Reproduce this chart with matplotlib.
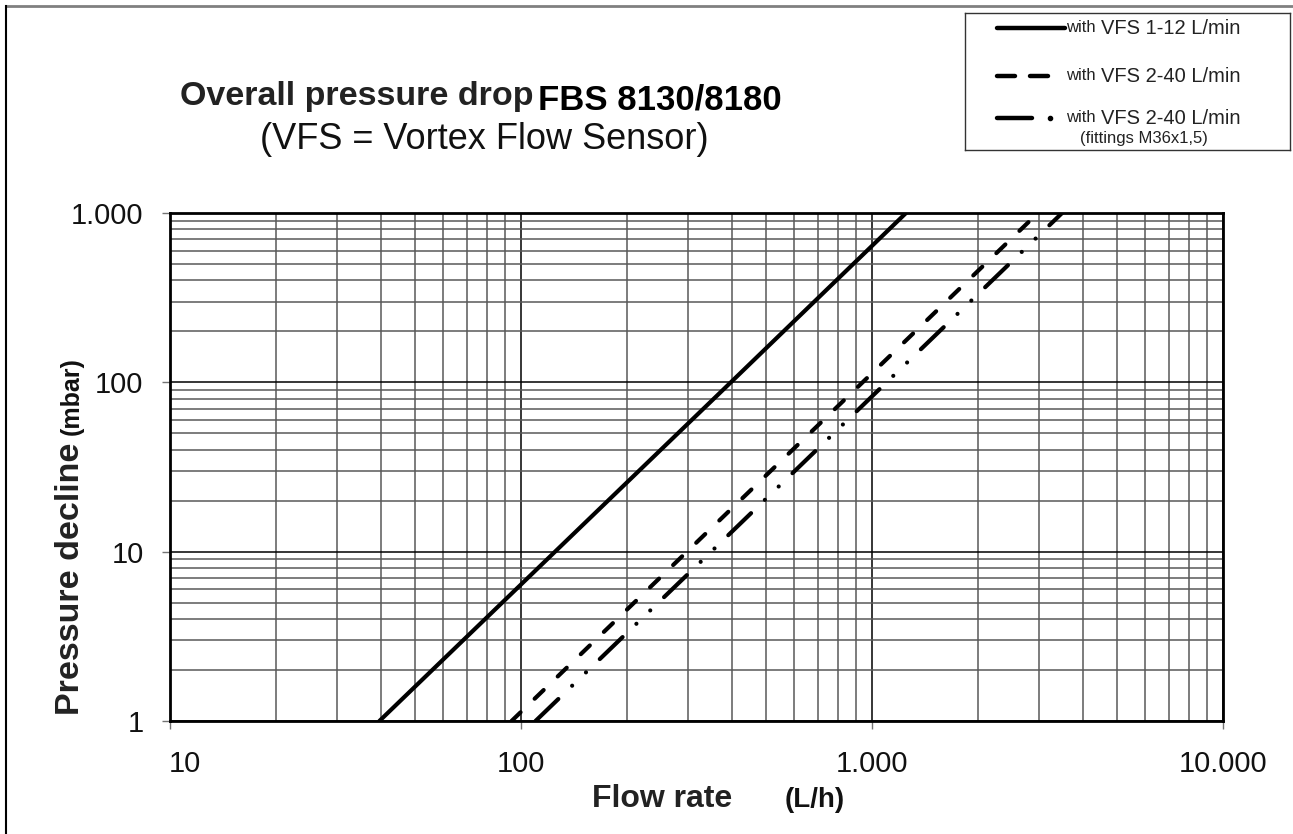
import numpy as np
import matplotlib
matplotlib.use("Agg")
import matplotlib.pyplot as plt
import matplotlib.ticker as ticker
import matplotlib.transforms as mtransforms
from matplotlib.lines import Line2D

plt.rcParams['font.family'] = ['Liberation Sans', 'DejaVu Sans']

# flow rate (L/h) vs pressure drop (mbar)
flow_vfs_1_12 = [39.5, 100, 400, 1250]
dp_vfs_1_12 = [1, 6.4, 102, 1000]

flow_vfs_2_40 = [94, 300, 940, 2970]
dp_vfs_2_40 = [1, 10.2, 100, 1000]

flow_vfs_2_40_m36 = [110, 350, 1100, 3480]
dp_vfs_2_40_m36 = [1, 10.1, 100, 1000]

x_ticks = [10, 100, 1000, 10000]
y_ticks = [1, 10, 100, 1000]

W, H = 1293, 834
fig = plt.figure(figsize=(W / 100, H / 100), dpi=100)

def fx(px):
    return px / W

def fy(py):
    return 1 - py / H

# page frame (top + left edges only)
fig.add_artist(Line2D([fx(6), 1], [fy(6), fy(6)], transform=fig.transFigure, color='0.5', lw=2))
fig.add_artist(Line2D([fx(6), fx(6)], [fy(6), 0], transform=fig.transFigure, color='black', lw=1.5))

ax = fig.add_axes([fx(170), fy(721), fx(1223) - fx(170), fy(213) - fy(721)])
ax.set_xscale('log')
ax.set_yscale('log')
ax.set_xlim(10, 10000)
ax.set_ylim(1, 1000)

lw = 3
ax.plot(flow_vfs_1_12, dp_vfs_1_12, color='black', lw=lw, solid_capstyle='round', zorder=5)
ax.plot(flow_vfs_2_40, dp_vfs_2_40, color='black', lw=lw, dashes=(3.0, 4.7),
        dash_capstyle='round', zorder=5)
ax.plot(flow_vfs_2_40_m36, dp_vfs_2_40_m36, color='black', lw=lw,
        dashes=(7.6, 4.6, 0.01, 4.6, 0.01, 4.6), dash_capstyle='round', zorder=5)

# grid
ax.xaxis.set_major_locator(ticker.FixedLocator(x_ticks))
ax.yaxis.set_major_locator(ticker.FixedLocator(y_ticks))
ax.xaxis.set_minor_locator(ticker.LogLocator(base=10, subs=np.arange(2, 10)))
ax.yaxis.set_minor_locator(ticker.LogLocator(base=10, subs=np.arange(2, 10)))
ax.xaxis.set_minor_formatter(ticker.NullFormatter())
ax.yaxis.set_minor_formatter(ticker.NullFormatter())
ax.grid(True, which='major', color='black', lw=1.1)
ax.grid(True, which='minor', color='0.35', lw=1.1)

de_fmt = ticker.FuncFormatter(lambda v, p: f"{v:,.0f}".replace(",", "."))
ax.xaxis.set_major_formatter(de_fmt)
ax.yaxis.set_major_formatter(de_fmt)
ax.tick_params(which='major', direction='out', length=6, width=1, color='0.45',
               labelsize=21, labelcolor='#111111')
ax.tick_params(axis='y', which='major', pad=13)
ax.tick_params(axis='x', which='major', pad=15)
ax.tick_params(which='minor', length=0)

# first x label sits a bit to the right
lbl0 = ax.get_xticklabels()[0]
lbl0.set_transform(lbl0.get_transform() + mtransforms.ScaledTranslation(0.15, 0, fig.dpi_scale_trans))

for s in ax.spines.values():
    s.set_linewidth(2)
    s.set_color('black')

# axis titles
fig.text(fx(592), fy(807), 'Flow rate', fontsize=23, fontweight='bold', color='#222222',
         ha='left', va='baseline')
fig.text(fx(785), fy(807), '(L/h)', fontsize=20, fontweight='bold', color='#111111',
         ha='left', va='baseline')
fig.text(fx(79), fy(715), 'Pressure decline', fontsize=24.5, fontweight='bold', color='#222222',
         rotation=90, rotation_mode='anchor', ha='left', va='baseline')
fig.text(fx(79), fy(435), '(mbar)', fontsize=18, fontweight='bold', color='#111111',
         rotation=90, rotation_mode='anchor', ha='left', va='baseline')

# chart title
fig.text(fx(180), fy(105), 'Overall pressure drop', fontsize=24.5, fontweight='bold', color='#222222',
         ha='left', va='baseline')
fig.text(fx(538), fy(110), 'FBS 8130/8180', fontsize=25, fontweight='bold', color='black',
         ha='left', va='baseline')
fig.text(fx(484), fy(149), '(VFS = Vortex Flow Sensor)', fontsize=26, color='#111111',
         ha='center', va='baseline')

# legend box
lg = fig.add_axes([fx(965), fy(150), fx(1290) - fx(965), fy(13) - fy(150)])
lg.set_xlim(965, 1290)
lg.set_ylim(150, 13)
lg.set_xticks([])
lg.set_yticks([])
for s in lg.spines.values():
    s.set_linewidth(1)
    s.set_color('#333333')

legend_rows = [
    ('VFS 1-12 L/min', 28),
    ('VFS 2-40 L/min', 76),
    ('VFS 2-40 L/min', 118),
]
lg.plot([997, 1065], [28, 28], color='black', lw=3.2, solid_capstyle='round')
lg.plot([997, 1015], [76, 76], color='black', lw=3.2, solid_capstyle='round')
lg.plot([1030, 1048], [76, 76], color='black', lw=3.2, solid_capstyle='round')
lg.plot([997, 1032], [118, 118], color='black', lw=3.2, solid_capstyle='round')
lg.plot([1050], [118], 'o', color='black', ms=3)
for label, yy in legend_rows:
    lg.text(1066, yy, 'with', fontsize=12, color='#222222', ha='left', va='center')
    lg.text(1101, yy, label, fontsize=14.5, color='#222222', ha='left', va='center')
lg.text(1080, 139, '(fittings M36x1,5)', fontsize=12, color='#222222', ha='left', va='center')

fig.savefig('out.png', dpi=100)
